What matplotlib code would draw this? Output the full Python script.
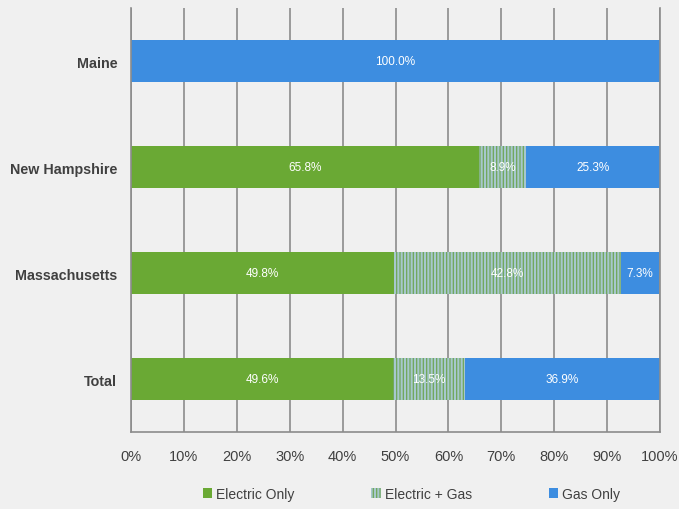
import matplotlib
matplotlib.use("Agg")
import matplotlib.pyplot as plt
import numpy as np

states = ["Maine", "New Hampshire", "Massachusetts", "Total"]
electric_only = [0.0, 65.8, 49.8, 49.6]
electric_gas = [0.0, 8.9, 42.8, 13.5]
gas_only = [100.0, 25.3, 7.3, 36.9]
series_names = ["Electric Only", "Electric + Gas", "Gas Only"]

bg = "#f0f0f0"
green = "#6aa934"
blue = "#3d8de0"
plt.rcParams["hatch.linewidth"] = 1.5
plt.rcParams["font.family"] = "Liberation Sans"

fig = plt.figure(figsize=(6.79, 5.10), dpi=100, facecolor=bg)
ax = fig.add_axes([0.193, 0.151, 0.779, 0.831], facecolor=bg)

y = np.arange(len(states))
h = 0.4
b1 = ax.barh(y, electric_only, height=h, color=green, linewidth=0)
b2 = ax.barh(y, electric_gas, left=electric_only, height=h, color="#6fa75a",
             hatch="|||||", edgecolor="#a7c7cc", linewidth=0)
left3 = np.array(electric_only) + np.array(electric_gas)
b3 = ax.barh(y, gas_only, left=left3, height=h, color=blue, linewidth=0)

for bars, vals, lefts in [(b1, electric_only, np.zeros(4)),
                          (b2, electric_gas, np.array(electric_only)),
                          (b3, gas_only, left3)]:
    for yi, v, l in zip(y, vals, lefts):
        if v > 0:
            ax.text(l + v / 2, yi, f"{v:.1f}%", ha="center", va="center",
                    color="white", fontsize=8.5)

ax.set_xlim(0, 100)
ax.set_ylim(3.5, -0.5)
ax.set_xticks(np.arange(0, 101, 10))
ax.set_xticklabels([f"{t}%" for t in range(0, 101, 10)], fontsize=10.5, color="#404040")
ax.set_yticks(y)
ax.set_yticklabels(states, fontsize=10.3, fontweight="bold", color="#404040")
ax.tick_params(axis="y", length=0, pad=10)
ax.tick_params(axis="x", length=0, pad=12)
ax.xaxis.grid(True, color="#8c8c8c", linewidth=1.2)
ax.set_axisbelow(True)
ax.spines["top"].set_visible(False)
for s in ["left", "bottom", "right"]:
    ax.spines[s].set_color("#8c8c8c")
    ax.spines[s].set_linewidth(1.2)

leg = fig.legend([b1, b2, b3], series_names, loc="center", ncol=3,
                 bbox_to_anchor=(0.606, 0.029), frameon=False, fontsize=10,
                 handlelength=0.7, handleheight=0.7, handletextpad=0.3,
                 columnspacing=5.5, labelcolor="#404040")

fig.savefig("out.png", dpi=100, facecolor=bg)
